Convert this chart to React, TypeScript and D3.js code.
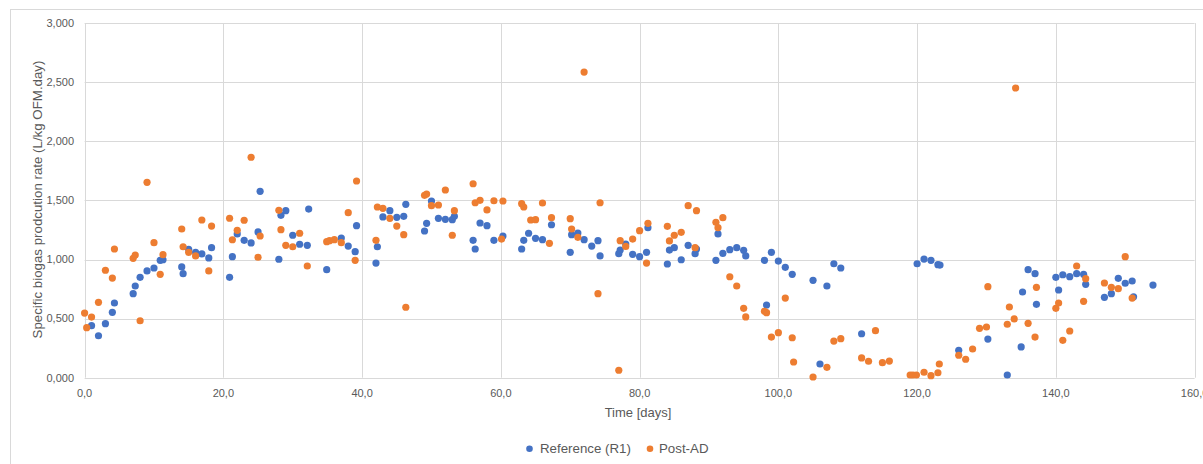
import React from "react";
import * as d3 from "d3";

const refDays = [1.0,2.0,3.0,4.0,4.3,7.0,7.3,8.0,9.0,10.0,10.9,11.3,14.0,14.2,15.0,16.0,16.9,17.9,18.3,20.9,21.3,22.0,23.0,24.0,25.0,25.3,28.0,28.3,29.0,30.0,31.0,32.1,32.3,34.9,37.0,38.0,39.0,39.2,42.0,42.2,43.0,44.0,45.0,46.0,46.3,49.0,49.3,50.0,51.0,52.0,53.0,53.3,56.0,56.3,57.0,58.0,59.0,60.3,63.0,63.3,64.0,65.0,66.0,67.3,70.0,70.2,71.1,72.0,73.1,74.0,74.3,77.0,77.2,78.0,79.0,80.0,81.0,81.2,84.0,84.3,85.0,86.0,87.0,88.0,88.2,91.0,91.3,92.0,93.0,94.0,95.0,95.3,98.0,98.3,99.0,100.0,101.0,102.0,105.0,106.0,107.0,108.0,109.0,112.0,120.0,121.0,122.0,123.0,123.3,126.0,130.2,133.0,135.0,135.2,136.0,137.0,137.2,140.0,140.4,141.0,142.0,143.0,144.0,144.3,147.0,148.0,149.0,150.0,151.0,151.2,154.0];
const refValues = [0.440,0.355,0.457,0.553,0.632,0.711,0.776,0.849,0.903,0.928,0.993,0.998,0.937,0.880,1.086,1.061,1.047,1.013,1.100,0.849,1.024,1.216,1.162,1.140,1.233,1.577,1.002,1.374,1.413,1.205,1.129,1.120,1.427,0.914,1.182,1.114,1.066,1.286,0.970,1.108,1.360,1.413,1.357,1.365,1.467,1.241,1.306,1.495,1.348,1.340,1.337,1.365,1.162,1.089,1.309,1.286,1.162,1.199,1.089,1.162,1.222,1.179,1.168,1.294,1.061,1.210,1.224,1.168,1.114,1.159,1.030,1.049,1.080,1.131,1.044,1.024,1.061,1.269,0.962,1.080,1.100,0.998,1.120,1.049,1.089,0.993,1.216,1.052,1.083,1.100,1.078,1.030,0.993,0.615,1.061,0.987,0.934,0.875,0.824,0.116,0.776,0.964,0.928,0.372,0.964,1.004,0.993,0.956,0.953,0.232,0.327,0.023,0.260,0.725,0.914,0.880,0.621,0.849,0.742,0.871,0.855,0.880,0.875,0.790,0.680,0.711,0.841,0.799,0.818,0.685,0.784];

const postDays = [0.0,0.3,1.0,2.0,3.0,4.0,4.3,7.0,7.3,8.0,9.0,10.0,10.9,11.3,14.0,14.2,15.0,16.0,16.9,17.9,18.3,20.9,21.3,22.0,23.0,24.0,25.0,25.3,28.0,28.3,29.0,30.0,31.0,32.1,34.9,35.3,36.0,37.0,38.0,39.0,39.2,42.0,42.2,43.0,44.0,45.0,46.0,46.3,49.0,49.3,50.0,51.0,52.0,53.0,53.3,56.0,56.3,57.0,58.0,59.0,60.1,60.3,63.0,63.3,64.3,65.0,66.0,67.0,67.3,70.0,70.2,71.1,72.0,74.0,74.3,77.0,77.2,78.0,79.0,80.0,81.0,81.2,84.0,84.3,85.0,86.0,87.0,88.0,88.2,91.0,91.3,92.0,93.0,94.0,95.0,95.3,98.0,98.3,99.0,100.0,101.0,102.0,102.2,105.0,107.0,108.0,109.0,112.0,113.0,114.0,115.0,116.0,119.0,119.4,119.9,121.0,122.0,123.0,123.2,126.0,127.0,128.0,129.0,130.0,130.2,133.0,133.3,134.0,134.2,136.0,137.0,137.2,140.0,140.4,141.0,142.0,143.0,144.0,144.3,147.0,148.0,149.0,150.0,151.0];
const postValues = [0.547,0.423,0.513,0.638,0.909,0.843,1.089,1.010,1.038,0.482,1.653,1.142,0.875,1.041,1.258,1.108,1.061,1.030,1.334,0.903,1.283,1.349,1.167,1.247,1.332,1.865,1.019,1.199,1.416,1.252,1.120,1.108,1.222,0.945,1.151,1.159,1.168,1.142,1.396,0.993,1.664,1.162,1.444,1.433,1.348,1.283,1.210,0.596,1.543,1.554,1.455,1.461,1.588,1.205,1.413,1.641,1.480,1.501,1.419,1.497,1.173,1.495,1.472,1.444,1.334,1.337,1.478,1.137,1.354,1.345,1.258,1.188,2.586,0.711,1.480,0.063,1.159,1.111,1.173,1.244,0.970,1.306,1.281,1.157,1.205,1.230,1.455,1.100,1.413,1.315,1.269,1.354,0.854,0.776,0.587,0.514,0.562,0.550,0.344,0.381,0.674,0.338,0.133,0.006,0.088,0.310,0.330,0.167,0.139,0.398,0.127,0.141,0.023,0.023,0.023,0.046,0.017,0.042,0.116,0.190,0.156,0.243,0.418,0.429,0.770,0.452,0.598,0.497,2.451,0.460,0.344,0.765,0.587,0.632,0.316,0.395,0.945,0.646,0.838,0.801,0.765,0.753,1.024,0.674];

const xTicks = [0, 20, 40, 60, 80, 100, 120, 140, 160];
const yTicks = [0, 0.5, 1.0, 1.5, 2.0, 2.5, 3.0];

const seriesNames = ["Reference (R1)", "Post-AD"];
const seriesColors = ["#4472C4", "#ED7D31"];

const W = 1203;
const H = 464;
const FONT = "'Liberation Sans', Arial, sans-serif";
const TEXT = "#595959";
const GRID = "#d9d9d9";

export default function App() {
  const x = d3.scaleLinear().domain([0, 160]).range([84.6, 1194.6]);
  const y = d3.scaleLinear().domain([0, 3]).range([377.7, 23.1]);
  const fmtY = (v: number) => d3.format(".3f")(v).replace(".", ",");
  const fmtX = (v: number) => d3.format(".1f")(v).replace(".", ",");

  const series = [
    refDays.map((d, i) => [d, refValues[i]]),
    postDays.map((d, i) => [d, postValues[i]]),
  ];

  return (
    <svg
      width={W}
      height={H}
      style={{ position: "absolute", left: 0, top: 0, background: "#fff" }}
      fontFamily={FONT}
    >
      <rect x={10.5} y={9.5} width={1300} height={600} fill="#fff" stroke={GRID} strokeWidth={1} />
      {yTicks.map((t) => (
        <line key={"gy" + t} x1={x(0)} x2={x(160)} y1={Math.round(y(t)) + 0.5} y2={Math.round(y(t)) + 0.5} stroke={GRID} strokeWidth={1} />
      ))}
      {xTicks.map((t) => (
        <line key={"gx" + t} x1={Math.round(x(t)) + 0.5} x2={Math.round(x(t)) + 0.5} y1={y(3)} y2={y(0)} stroke={GRID} strokeWidth={1} />
      ))}
      {yTicks.map((t) => (
        <text key={"ty" + t} x={74} y={y(t)} dy="0.35em" textAnchor="end" fontSize={11} fill={TEXT}>
          {fmtY(t)}
        </text>
      ))}
      {xTicks.map((t) => (
        <text key={"tx" + t} x={x(t)} y={393} dy="0.35em" textAnchor="middle" fontSize={11} fill={TEXT}>
          {fmtX(t)}
        </text>
      ))}
      <text x={638} y={412} dy="0.35em" textAnchor="middle" fontSize={13} fill={TEXT}>
        Time [days]
      </text>
      <text
        transform={`translate(37.5,199.5) rotate(-90)`}
        dy="0.35em"
        textAnchor="middle"
        fontSize={13.3}
        fill={TEXT}
      >
        Specific biogas prodcution rate (L/kg OFM.day)
      </text>
      {series.map((pts, si) => (
        <g key={"s" + si} fill={seriesColors[si]}>
          {pts.map((p, i) => (
            <circle key={i} cx={x(p[0])} cy={y(p[1])} r={3.6} />
          ))}
        </g>
      ))}
      <g>
        <circle cx={529.5} cy={448.7} r={3.3} fill={seriesColors[0]} />
        <text x={540} y={448.7} dy="0.35em" fontSize={13.3} fill={TEXT}>{seriesNames[0]}</text>
        <circle cx={650} cy={448.7} r={3.3} fill={seriesColors[1]} />
        <text x={659} y={448.7} dy="0.35em" fontSize={13.3} fill={TEXT}>{seriesNames[1]}</text>
      </g>
    </svg>
  );
}
